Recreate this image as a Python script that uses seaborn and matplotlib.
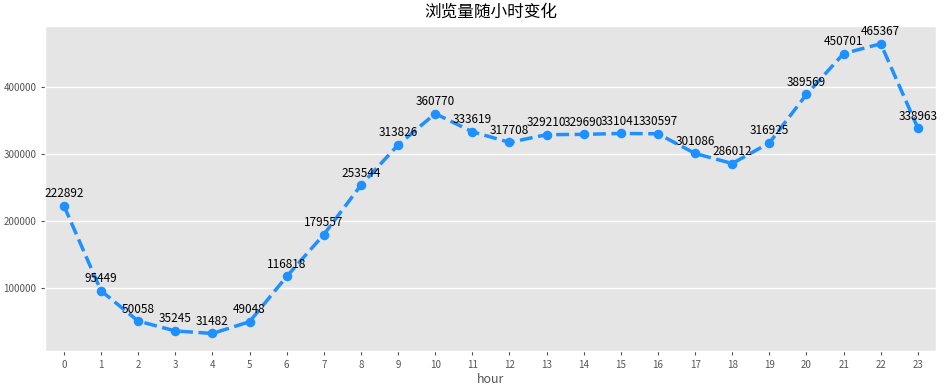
import matplotlib
matplotlib.use("Agg")
import matplotlib.pyplot as plt
import seaborn as sns
import pandas as pd
from matplotlib import font_manager

hours = list(range(24))
views = [222892, 95449, 50058, 35245, 31482, 49048, 116818, 179557, 253544, 313826,
         360770, 333619, 317708, 329210, 329690, 331041, 330597, 301086, 286012, 316925,
         389569, 450701, 465367, 338963]
title = "浏览量随小时变化"

plt.style.use("ggplot")
plt.rcParams['font.family'] = ['Noto Sans CJK SC', 'DejaVu Sans']
plt.rcParams['axes.unicode_minus'] = False

names = {f.name for f in font_manager.fontManager.ttflist}
narrow = 'Liberation Sans Narrow' if 'Liberation Sans Narrow' in names else 'DejaVu Sans'

df = pd.DataFrame({"hour": hours, "views": views})

fig, ax = plt.subplots(figsize=(9.44, 3.88), dpi=100)
fig.subplots_adjust(left=0.048, right=0.992, top=0.933, bottom=0.095)
sns.pointplot(data=df, x="hour", y="views", color="#1E90FF", linestyle="--",
              markersize=5, linewidth=2.5, ax=ax)
for i, v in enumerate(views):
    kw = dict(family=narrow, fontsize=10.5) if narrow != 'DejaVu Sans' else dict(fontsize=8.5, stretch='condensed')
    ax.annotate(str(v), (i, v), xytext=(0, 4), textcoords="offset points",
                ha="center", va="bottom", color="black", **kw)
ax.set_ylim(5000, 492000)
ax.set_xlim(-0.5, 23.5)
ax.grid(axis="x", visible=False)
ax.grid(axis="y", color="white", linewidth=1)
ax.set_facecolor("#E5E5E5")
ax.set_ylabel("")
ax.set_xlabel("hour", fontsize=9, color="#555555", labelpad=2)
ax.set_title(title, fontsize=12, color="black", pad=7)
ax.tick_params(axis="both", labelsize=7, colors="#555555", length=3)
fig.savefig("out.png", dpi=100)
